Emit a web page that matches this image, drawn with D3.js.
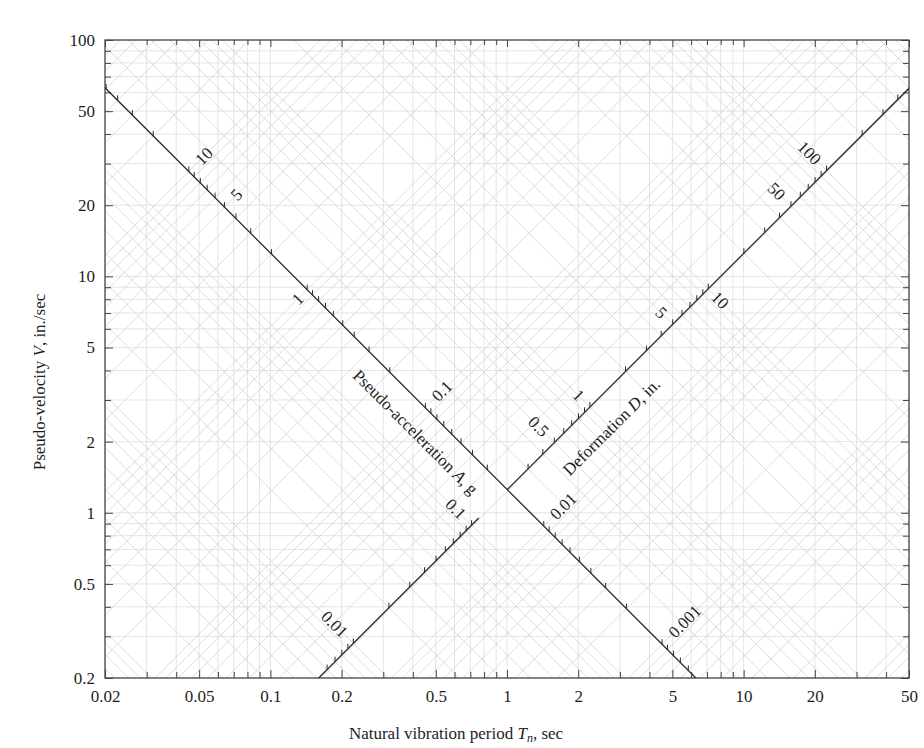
<!DOCTYPE html>
<html><head><meta charset="utf-8">
<script src="https://cdn.jsdelivr.net/npm/d3@7"></script>
<style>
html,body{margin:0;padding:0;background:#fff;}
svg{display:block;font-family:"Liberation Serif","Times New Roman",serif;}
</style></head><body>
<svg id="chart" width="924" height="748"></svg>
<script>
// Tripartite (four-way logarithmic) response-spectrum paper
const periodDomain = [0.02, 50];          // Tn, sec
const velocityDomain = [0.2, 100];        // V, in./sec
const periodLabels = [0.02, 0.05, 0.1, 0.2, 0.5, 1, 2, 5, 10, 20, 50];
const velocityLabels = [0.2, 0.5, 1, 2, 5, 10, 20, 50, 100];
const gravity = 386.1;                    // in./sec^2
const mantissas = [1, 2, 3, 4, 5, 6, 7, 8, 9];

// The two scale lines: the descending one is D = const and carries the A scale,
// the ascending one is A = const and carries the D scale.
const accelScaleLineD = 0.2;              // in.
const deformScaleLineA = 0.02035;         // g
const accelLabels = [10, 5, 1, 0.1, 0.01, 0.001];
const deformLabels = [0.01, 0.1, 0.5, 1, 5, 10, 50, 100];
const deformLowerEndT = 0.76;             // lower D segment stops here
const accelTitleT = 0.485;
const deformTitleT = 2.26;

const W = 924, H = 748;
const L = 105, R = 909, T = 40, B = 678;
const FONT = 17;

const x = d3.scaleLog().domain(periodDomain).range([L, R]);
const y = d3.scaleLog().domain(velocityDomain).range([B, T]);

const vFromD = (D, t) => 2 * Math.PI * D / t;
const vFromA = (A, t) => A * gravity * t / (2 * Math.PI);

const svg = d3.select("#chart");
svg.append("defs").append("clipPath").attr("id", "plot")
  .append("rect").attr("x", L).attr("y", T).attr("width", R - L).attr("height", B - T);

function decadeValues(lo, hi) {
  const out = [];
  for (let e = Math.floor(Math.log10(lo)); e <= Math.ceil(Math.log10(hi)); e++)
    mantissas.forEach(m => out.push(+(m * Math.pow(10, e)).toPrecision(6)));
  return out.filter(v => v >= lo * 0.999 && v <= hi * 1.001);
}

const grid = svg.append("g").attr("clip-path", "url(#plot)").attr("fill", "none");
const gridOrtho = grid.append("g").attr("stroke", "#dadada").attr("stroke-width", 0.7);
const gridDiag = grid.append("g").attr("stroke", "#cbcbcb").attr("stroke-width", 0.65);

const tEnds = [periodDomain[0] / 2, periodDomain[1] * 2];
const lineGen = d3.line().x(d => x(d[0])).y(d => y(d[1]));

// vertical and horizontal grid
decadeValues(0.02, 50).forEach(t => gridOrtho.append("line")
  .attr("x1", x(t)).attr("x2", x(t)).attr("y1", T).attr("y2", B));
decadeValues(0.2, 100).forEach(v => gridOrtho.append("line")
  .attr("x1", L).attr("x2", R).attr("y1", y(v)).attr("y2", y(v)));
// constant-deformation lines (descending)
decadeValues(1e-4, 1e3).forEach(D => gridDiag.append("path")
  .attr("d", lineGen(tEnds.map(t => [t, vFromD(D, t)]))));
// constant-acceleration lines (ascending)
decadeValues(1e-5, 1e2).forEach(A => gridDiag.append("path")
  .attr("d", lineGen(tEnds.map(t => [t, vFromA(A, t)]))));

// frame axes
const minorP = decadeValues(0.02, 50).filter(v => !periodLabels.includes(v));
const minorV = decadeValues(0.2, 100).filter(v => !velocityLabels.includes(v));
const fmt = d => (d < 1 ? String(d) : d3.format("d")(d));

function styleAxis(g) {
  g.select(".domain").remove();
  g.selectAll("line").attr("stroke", "#444").attr("stroke-width", 1);
  g.selectAll("text").attr("fill", "#1e1e1e").attr("font-size", FONT)
    .attr("font-family", "Liberation Serif, serif");
}
svg.append("g").attr("transform", `translate(0,${B})`)
  .call(d3.axisBottom(x).tickValues(periodLabels).tickFormat(fmt).tickSize(-8).tickPadding(12)).call(styleAxis);
svg.append("g").attr("transform", `translate(0,${B})`)
  .call(d3.axisBottom(x).tickValues(minorP).tickFormat("").tickSize(-6)).call(styleAxis);
svg.append("g").attr("transform", `translate(0,${T})`)
  .call(d3.axisTop(x).tickValues(periodLabels).tickFormat("").tickSize(-7)).call(styleAxis);
svg.append("g").attr("transform", `translate(0,${T})`)
  .call(d3.axisTop(x).tickValues(minorP).tickFormat("").tickSize(-5)).call(styleAxis);
svg.append("g").attr("transform", `translate(${L},0)`)
  .call(d3.axisLeft(y).tickValues(velocityLabels).tickFormat(fmt).tickSize(-8).tickPadding(10)).call(styleAxis);
svg.append("g").attr("transform", `translate(${L},0)`)
  .call(d3.axisLeft(y).tickValues(minorV).tickFormat("").tickSize(-6)).call(styleAxis);
svg.append("g").attr("transform", `translate(${R},0)`)
  .call(d3.axisRight(y).tickValues(velocityLabels).tickFormat("").tickSize(-8)).call(styleAxis);
svg.append("g").attr("transform", `translate(${R},0)`)
  .call(d3.axisRight(y).tickValues(minorV).tickFormat("").tickSize(-6)).call(styleAxis);

svg.append("rect").attr("x", L).attr("y", T).attr("width", R - L).attr("height", B - T)
  .attr("fill", "none").attr("stroke", "#444").attr("stroke-width", 1.3);

// scale lines
const ink = "#2a2a2a";
const scales = svg.append("g").attr("clip-path", "url(#plot)");
scales.append("path").attr("d", lineGen(tEnds.map(t => [t, vFromD(accelScaleLineD, t)])))
  .attr("stroke", ink).attr("stroke-width", 1.3).attr("fill", "none");

const tCross = Math.sqrt(4 * Math.PI * Math.PI * accelScaleLineD / (deformScaleLineA * gravity));
scales.append("path").attr("d", lineGen([tCross, tEnds[1]].map(t => [t, vFromA(deformScaleLineA, t)])))
  .attr("stroke", ink).attr("stroke-width", 1.3).attr("fill", "none");
scales.append("path").attr("d", lineGen([tEnds[0], deformLowerEndT].map(t => [t, vFromA(deformScaleLineA, t)])))
  .attr("stroke", ink).attr("stroke-width", 1.3).attr("fill", "none");

const inside = (px, py) => px > L + 0.5 && px < R - 0.5 && py > T + 0.5 && py < B - 0.5;
const tickLen = 5;

// A ticks along the descending line
const tOfA = A => Math.sqrt(2 * Math.PI * vFromD(accelScaleLineD, 1) / (A * gravity));
decadeValues(1e-4, 100).forEach(A => {
  const t = tOfA(A), px = x(t), py = y(vFromD(accelScaleLineD, t));
  if (!inside(px, py) || Math.abs(t - tCross) / tCross < 0.03) return;
  scales.append("line").attr("x1", px).attr("x2", px).attr("y1", py).attr("y2", py - tickLen)
    .attr("stroke", ink).attr("stroke-width", 1);
});
// D ticks along the ascending line
const tOfD = D => Math.sqrt(2 * Math.PI * D / vFromA(deformScaleLineA, 1));
decadeValues(1e-4, 1000).forEach(D => {
  const t = tOfD(D), px = x(t), py = y(vFromA(deformScaleLineA, t));
  const onLower = t <= deformLowerEndT, onUpper = t > tCross * 1.03;
  if (!inside(px, py) || !(onLower || onUpper)) return;
  scales.append("line").attr("x1", px).attr("x2", px).attr("y1", py).attr("y2", py - tickLen)
    .attr("stroke", ink).attr("stroke-width", 1);
});

const s2 = Math.SQRT1_2;
const labels = svg.append("g").attr("fill", "#1e1e1e").attr("font-size", FONT)
  .attr("dominant-baseline", "central");
const fmtDiag = d => String(d);

// A labels: read up-right, across the descending line
const accelBelow = new Set([1]);
accelLabels.forEach(A => {
  const t = tOfA(A), px = x(t), py = y(vFromD(accelScaleLineD, t));
  const below = accelBelow.has(A), g = below ? 9 : 13;
  const sx = below ? -1 : 1;
  const lx = px + sx * g * s2, ly = py - sx * g * s2;
  labels.append("text").attr("x", lx).attr("y", ly)
    .attr("text-anchor", below ? "end" : "start")
    .attr("transform", `rotate(-45,${lx},${ly})`).text(fmtDiag(A));
});
// D labels: read down-right, across the ascending line
const deformBelow = new Set([10]);
deformLabels.forEach(D => {
  const t = tOfD(D), px = x(t), py = y(vFromA(deformScaleLineA, t));
  const below = deformBelow.has(D), g = below ? 8 : 12;
  const s = below ? 1 : -1;
  const lx = px + s * g * s2, ly = py + s * g * s2;
  labels.append("text").attr("x", lx).attr("y", ly)
    .attr("text-anchor", below ? "start" : "end")
    .attr("transform", `rotate(45,${lx},${ly})`).text(fmtDiag(D));
});

// scale titles
{
  const px = x(accelTitleT), py = y(vFromD(accelScaleLineD, accelTitleT));
  const lx = px - 24 * s2, ly = py + 24 * s2;
  const t = labels.append("text").attr("x", lx).attr("y", ly).attr("text-anchor", "middle")
    .attr("transform", `rotate(45,${lx},${ly})`);
  t.append("tspan").text("Pseudo-acceleration ");
  t.append("tspan").attr("font-style", "italic").text("A");
  t.append("tspan").text(", g");
}
{
  const px = x(deformTitleT), py = y(vFromA(deformScaleLineA, deformTitleT));
  const lx = px + 29 * s2, ly = py + 29 * s2;
  const t = labels.append("text").attr("x", lx).attr("y", ly).attr("text-anchor", "middle")
    .attr("transform", `rotate(-45,${lx},${ly})`);
  t.append("tspan").text("Deformation ");
  t.append("tspan").attr("font-style", "italic").text("D");
  t.append("tspan").text(", in.");
}

// axis titles
{
  const t = svg.append("text").attr("x", 456).attr("y", 739).attr("text-anchor", "middle")
    .attr("font-size", FONT).attr("fill", "#1e1e1e");
  t.append("tspan").text("Natural vibration period ");
  t.append("tspan").attr("font-style", "italic").text("T");
  t.append("tspan").attr("font-style", "italic").attr("font-size", 12).attr("dy", 3).text("n");
  t.append("tspan").attr("dy", -3).text(", sec");
}
{
  const t = svg.append("text").attr("transform", "translate(45,382) rotate(-90)")
    .attr("text-anchor", "middle").attr("font-size", FONT).attr("fill", "#1e1e1e");
  t.append("tspan").text("Pseudo-velocity ");
  t.append("tspan").attr("font-style", "italic").text("V");
  t.append("tspan").text(", in./sec");
}
</script></body></html>
